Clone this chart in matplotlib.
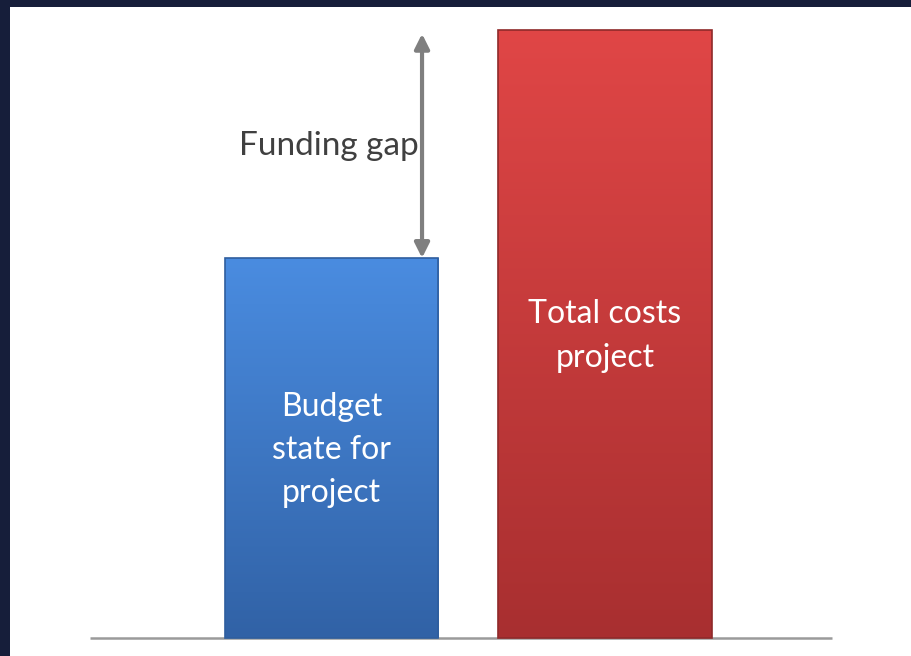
import matplotlib.pyplot as plt
import numpy as np
from matplotlib.colors import LinearSegmentedColormap

categories = ["Budget\nstate for\nproject", "Total costs\nproject"]
values = [100, 160]
gap_label = "Funding gap"

fig = plt.figure(figsize=(9.11, 6.56), dpi=100)
fig.patch.set_facecolor("#161e3a")
ax = fig.add_axes([10 / 911, 0, 901 / 911, 649 / 656])
ax.set_facecolor("white")

x = np.arange(len(values))
width = 0.78
bar_colors = [("#4a8ce0", "#3162a6"), ("#e04646", "#a82f30")]
edge_colors = ["#2f5e9e", "#8f2a2a"]

bars = ax.bar(x, values, width=width, color="none", edgecolor="none", zorder=2)
for bar, (top, bottom), ec in zip(bars, bar_colors, edge_colors):
    cmap = LinearSegmentedColormap.from_list("g", [bottom, top])
    grad = np.linspace(0, 1, 256).reshape(-1, 1)
    bx, by = bar.get_x(), bar.get_y()
    bw, bh = bar.get_width(), bar.get_height()
    im = ax.imshow(grad, cmap=cmap, origin="lower", aspect="auto",
                   extent=[bx, bx + bw, by, by + bh], zorder=2)
    im.set_clip_path(bar)
    ax.bar(bx + bw / 2, bh, width=bw, color="none", edgecolor=ec,
           linewidth=1.2, zorder=3)

# text inside bars
ax.text(x[0], 49.5, categories[0], ha="center", va="center", color="white",
        fontsize=23, family="Lato", linespacing=1.55, zorder=4)
ax.text(x[1], 79.5, categories[1], ha="center", va="center", color="white",
        fontsize=23, family="Lato", linespacing=1.6, zorder=4)

# baseline
ax.plot([-0.883, 1.830], [0, 0], color="#9a9a9a", lw=1.8, zorder=1,
        solid_capstyle="butt")

# funding gap arrow
arrow_x = 0.331
ax.annotate("", xy=(arrow_x, values[1] - 1), xytext=(arrow_x, values[0]),
            arrowprops=dict(arrowstyle="<|-|>", color="#7f7f7f", lw=3,
                            mutation_scale=22, shrinkA=0, shrinkB=0),
            zorder=3)
ax.text(arrow_x - 0.012, 129.5, gap_label, ha="right", va="center",
        color="#404040", fontsize=24, family="Lato")

ax.set_xlim(-1.1755, 2.1188)
ax.set_ylim(-4.74, 166.05)
ax.set_xticks([])
ax.set_yticks([])
for s in ax.spines.values():
    s.set_visible(False)

fig.savefig("out.png", dpi=100, facecolor=fig.get_facecolor())
